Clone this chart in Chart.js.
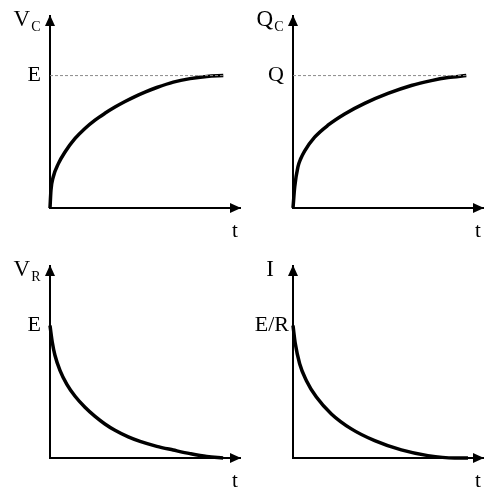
<!DOCTYPE html>
<html>
<head>
<meta charset="utf-8">
<script src="https://cdn.jsdelivr.net/npm/chart.js@4"></script>
<style>
  body { margin: 0; background: #fff; }
  #quadro { position: relative; width: 493px; height: 495px; }
  #quadro canvas { position: absolute; }
</style>
</head>
<body>
<div id="quadro">
  <canvas id="grafico-vc" width="246" height="245" style="left:0;top:0"></canvas>
  <canvas id="grafico-qc" width="246" height="245" style="left:243px;top:0"></canvas>
  <canvas id="grafico-vr" width="246" height="245" style="left:0;top:250px"></canvas>
  <canvas id="grafico-i" width="246" height="245" style="left:243px;top:250px"></canvas>
</div>
<script>
// tempo normalizado (0..1 ate a ponta da seta) e valor normalizado (1 = E, Q ou E/R)
const TEMPO_VC = [0, 0.005, 0.017, 0.044, 0.079, 0.132, 0.184, 0.237, 0.289, 0.342, 0.395, 0.447, 0.5, 0.562, 0.649, 0.737, 0.825, 0.912];
const VALORES_VC = [0, 0.133, 0.234, 0.335, 0.423, 0.525, 0.601, 0.664, 0.715, 0.762, 0.804, 0.841, 0.875, 0.91, 0.951, 0.977, 0.993, 1.0];

const TEMPO_QC = [0, 0.009, 0.026, 0.04, 0.061, 0.114, 0.184, 0.272, 0.377, 0.5, 0.623, 0.728, 0.816, 0.912];
const VALORES_QC = [0, 0.16, 0.31, 0.37, 0.43, 0.535, 0.625, 0.71, 0.79, 0.865, 0.925, 0.962, 0.985, 1.0];

const TEMPO_VR = [0, 0.012, 0.026, 0.053, 0.088, 0.132, 0.184, 0.237, 0.289, 0.342, 0.412, 0.474, 0.562, 0.649, 0.737, 0.825, 0.911];
const VALORES_VR = [1.0, 0.874, 0.776, 0.66, 0.558, 0.466, 0.383, 0.314, 0.257, 0.209, 0.159, 0.125, 0.088, 0.06, 0.033, 0.011, 0];

const TEMPO_I = [0, 0.012, 0.035, 0.070, 0.123, 0.202, 0.307, 0.430, 0.570, 0.710, 0.851, 0.921];
const VALORES_I = [1.0, 0.864, 0.712, 0.586, 0.46, 0.333, 0.22, 0.131, 0.061, 0.018, 0, 0];

// rotulos: eixo y (letra + indice), marca do eixo y e eixo x
const TITULOS_Y = [['V', 'C'], ['Q', 'C'], ['V', 'R'], ['I', '']];
const MARCAS_Y = ['E', 'Q', 'E', 'E/R'];
const TITULO_X = 't';
const FIM_TRACEJADO = [0.91, 0.91, null, null];

const FONTE = '"Liberation Serif", "Times New Roman", serif';

const setas = {
  id: 'setas',
  afterDraw(chart, args, opts) {
    const { ctx, chartArea: { left, right, top, bottom } } = chart;
    ctx.save();
    ctx.fillStyle = '#000';
    // seta do eixo x
    ctx.beginPath();
    ctx.moveTo(right + 1, bottom);
    ctx.lineTo(right - 10, bottom - 5);
    ctx.lineTo(right - 10, bottom + 5);
    ctx.closePath();
    ctx.fill();
    // seta do eixo y
    ctx.beginPath();
    ctx.moveTo(left, top - 1);
    ctx.lineTo(left - 5, top + 10);
    ctx.lineTo(left + 5, top + 10);
    ctx.closePath();
    ctx.fill();

    // titulo do eixo y com indice
    const [letra, indice] = opts.titulo;
    ctx.textBaseline = 'alphabetic';
    ctx.font = `23px ${FONTE}`;
    const largLetra = ctx.measureText(letra).width;
    ctx.font = `14px ${FONTE}`;
    const largIndice = indice ? ctx.measureText(indice).width + 1 : 0;
    const x0 = left - 23 - (largLetra + largIndice) / 2;
    ctx.font = `23px ${FONTE}`;
    ctx.fillText(letra, x0, top + 10);
    if (indice) {
      ctx.font = `14px ${FONTE}`;
      ctx.fillText(indice, x0 + largLetra + 1, top + 15);
    }

    // rotulo t
    ctx.font = `21px ${FONTE}`;
    ctx.textAlign = 'center';
    ctx.fillText(TITULO_X, right - 5, bottom + 29);
    ctx.restore();
  },
};

function criarGrafico(idCanvas, tempos, valores, indice) {
  const datasets = [];
  if (FIM_TRACEJADO[indice] !== null) {
    datasets.push({
      data: [{ x: 0, y: 1 }, { x: FIM_TRACEJADO[indice], y: 1 }],
      borderColor: '#8a8a8a',
      borderWidth: 1,
      borderDash: [3, 2],
      pointRadius: 0,
      clip: false,
    });
  }
  datasets.push({
    data: tempos.map((t, i) => ({ x: t, y: valores[i] })),
    borderColor: '#000',
    borderWidth: 3.5,
    pointRadius: 0,
    cubicInterpolationMode: 'monotone',
    borderCapStyle: 'butt',
    clip: false,
  });

  const paddingMarca = MARCAS_Y[indice] === 'E/R' ? 4 : 9;

  return new Chart(document.getElementById(idCanvas), {
    type: 'line',
    data: { datasets },
    options: {
      responsive: false,
      animation: false,
      events: [],
      layout: { padding: { top: 16, right: 6, bottom: 37, left: 0 } },
      plugins: {
        legend: { display: false },
        tooltip: { enabled: false },
        setas: { titulo: TITULOS_Y[indice] },
      },
      scales: {
        x: {
          type: 'linear',
          min: 0,
          max: 1,
          grid: { display: false, drawTicks: false },
          border: { display: true, color: '#000', width: 2 },
          ticks: { display: false },
          afterFit: (s) => { s.height = 0; s.paddingLeft = 0; s.paddingRight = 0; },
        },
        y: {
          type: 'linear',
          min: 0,
          max: 1.45,
          grid: { display: false, drawTicks: false },
          border: { display: true, color: '#000', width: 2 },
          afterBuildTicks: (s) => { s.ticks = [{ value: 1 }]; },
          ticks: {
            color: '#000',
            padding: paddingMarca,
            font: { family: FONTE, size: 22 },
            callback: () => MARCAS_Y[indice],
          },
          afterFit: (s) => { s.width = 50; s.paddingTop = 0; s.paddingBottom = 0; },
        },
      },
    },
    plugins: [setas],
  });
}

criarGrafico('grafico-vc', TEMPO_VC, VALORES_VC, 0);
criarGrafico('grafico-qc', TEMPO_QC, VALORES_QC, 1);
criarGrafico('grafico-vr', TEMPO_VR, VALORES_VR, 2);
criarGrafico('grafico-i', TEMPO_I, VALORES_I, 3);
</script>
</body>
</html>
